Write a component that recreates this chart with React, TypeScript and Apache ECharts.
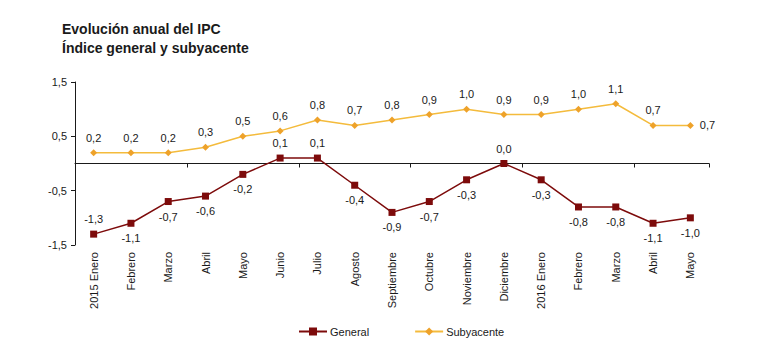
import React, { useEffect, useRef } from "react";
import * as echarts from "echarts";

const TITLE_LINE_1 = "Evolución anual del IPC";
const TITLE_LINE_2 = "Índice general y subyacente";

const categories = [
  "2015 Enero", "Febrero", "Marzo", "Abril", "Mayo", "Junio", "Julio", "Agosto",
  "Septiembre", "Octubre", "Noviembre", "Diciembre", "2016 Enero", "Febrero",
  "Marzo", "Abril", "Mayo",
];

const generalValues = [-1.3, -1.1, -0.7, -0.6, -0.2, 0.1, 0.1, -0.4, -0.9, -0.7, -0.3, 0.0, -0.3, -0.8, -0.8, -1.1, -1.0];
const subyacenteValues = [0.2, 0.2, 0.2, 0.3, 0.5, 0.6, 0.8, 0.7, 0.8, 0.9, 1.0, 0.9, 0.9, 1.0, 1.1, 0.7, 0.7];

const yMin = -1.5;
const yMax = 1.5;
const yInterval = 1;

const FONT = "'Liberation Sans', Arial, sans-serif";
const TEXT = "#1a1a1a";
const GENERAL_COLOR = "#7d0b0b";
const SUB_LINE = "#f4bb3c";
const SUB_MARK = "#eea22a";

const fmt = (v: number) => v.toFixed(1).replace(".", ",");

export default function App() {
  const ref = useRef<HTMLDivElement>(null);

  useEffect(() => {
    if (!ref.current) return;
    const chart = echarts.init(ref.current, undefined, { renderer: "svg" });

    const generalData = generalValues.map((v, i) => ({
      value: v,
      label: {
        position: v >= 0 || i === 0 ? "top" : "bottom",
      },
    }));
    const subData = subyacenteValues.map((v, i) => ({
      value: v,
      label: {
        position: i === subyacenteValues.length - 1 ? "right" : "top",
      },
    }));

    chart.setOption({
      animation: false,
      backgroundColor: "#ffffff",
      textStyle: { fontFamily: FONT },
      title: {
        text: TITLE_LINE_1 + "\n" + TITLE_LINE_2,
        left: 62,
        top: 19,
        padding: 0,
        textStyle: {
          fontFamily: FONT,
          fontSize: 14,
          fontWeight: "bold",
          color: TEXT,
          lineHeight: 19,
        },
      },
      legend: {
        left: 298,
        top: 326,
        itemGap: 45,
        itemWidth: 28,
        itemHeight: 10,
        padding: 0,
        textStyle: { fontFamily: FONT, fontSize: 11, color: TEXT, padding: [0, 0, 0, -2] },
        data: ["General", "Subyacente"],
      },
      grid: { left: 75, right: 66, top: 82, bottom: 105, containLabel: false },
      xAxis: [
        {
          type: "category",
          data: categories,
          boundaryGap: true,
          position: "bottom",
          axisLine: { show: false, onZero: false },
          axisTick: { show: false },
          axisLabel: {
            rotate: 90,
            margin: 7,
            fontSize: 11,
            color: TEXT,
            fontFamily: FONT,
            interval: 0,
          },
          splitLine: { show: false },
        },
        {
          type: "category",
          data: categories,
          boundaryGap: true,
          position: "bottom",
          axisLine: { show: true, onZero: true, lineStyle: { color: "#1a1a1a", width: 1 } },
          axisTick: { show: true, length: 4, inside: false, alignWithLabel: false, lineStyle: { color: "#1a1a1a" } },
          axisLabel: { show: false },
          splitLine: { show: false },
        },
      ],
      yAxis: {
        type: "value",
        min: yMin,
        max: yMax,
        interval: yInterval,
        axisLine: { show: true, lineStyle: { color: "#1a1a1a", width: 1 } },
        axisTick: { show: true, length: 4, lineStyle: { color: "#1a1a1a" } },
        axisLabel: {
          formatter: (v: number) => fmt(v),
          fontSize: 11,
          color: TEXT,
          fontFamily: FONT,
          margin: 8,
        },
        splitLine: { show: false },
      },
      series: [
        {
          name: "General",
          type: "line",
          xAxisIndex: 0,
          data: generalData,
          symbol: "rect",
          symbolSize: 7,
          lineStyle: { color: GENERAL_COLOR, width: 1.5 },
          itemStyle: { color: GENERAL_COLOR },
          label: {
            show: true,
            distance: 6,
            fontSize: 11,
            color: TEXT,
            fontFamily: FONT,
            formatter: (p: any) => fmt(p.value),
          },
          z: 3,
        },
        {
          name: "Subyacente",
          type: "line",
          xAxisIndex: 0,
          data: subData,
          symbol: "diamond",
          symbolSize: 7,
          lineStyle: { color: SUB_LINE, width: 1.5 },
          itemStyle: { color: SUB_MARK },
          label: {
            show: true,
            distance: 6,
            fontSize: 11,
            color: TEXT,
            fontFamily: FONT,
            formatter: (p: any) => fmt(p.value),
          },
          z: 2,
        },
      ],
    });

    return () => chart.dispose();
  }, []);

  return (
    <div
      ref={ref}
      style={{ position: "fixed", left: 0, top: 0, width: 775, height: 350, background: "#fff" }}
    />
  );
}
